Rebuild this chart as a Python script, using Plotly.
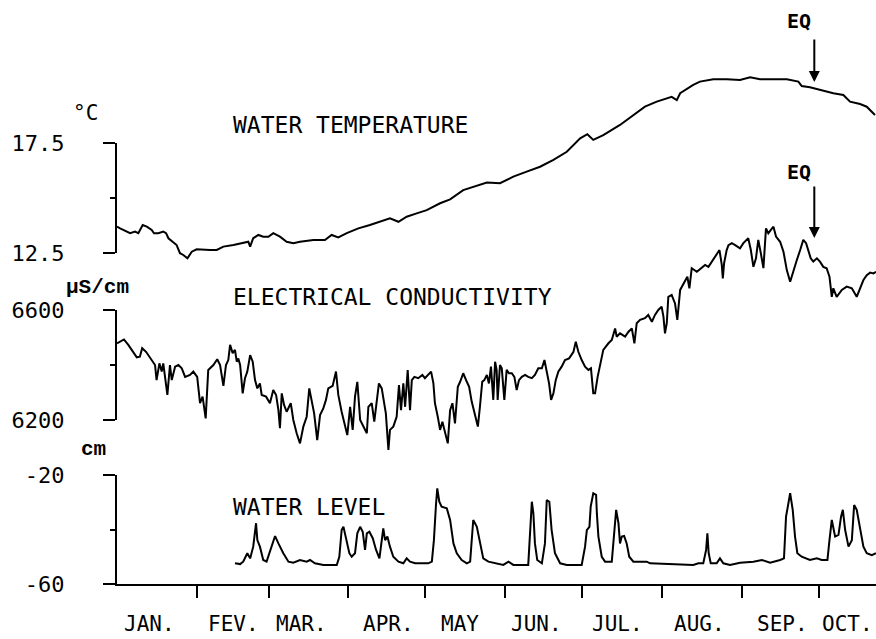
import plotly.graph_objects as go

# ---------------- data (x = day of year, starting 1 January) ----------------
temp_day = [0, 1.2, 5.1, 7.0, 8.3, 10.0, 11.6, 13.5, 14.4, 16.1, 18.0, 19.1, 20.0, 21.9, 23.2,
            24.5, 25.8, 27.4, 29.1, 31.0, 33.6, 36.2, 38.8, 41.4, 45.3, 49.1, 51.1, 51.8, 53.0,
            55.0, 56.9, 58.9, 60.8, 63.4, 66.0, 68.6, 71.2, 76.4, 80.9, 83.5, 86.1, 89.4, 93.9,
            98.4, 103.6, 106.2, 109.5, 112.7, 116.6, 120.5, 125.7, 129.6, 134.7, 138.6, 143.9,
            149.0, 154.2, 159.4, 164.6, 169.8, 175.0, 180.2, 183.0, 185.3, 189.2, 195.7, 200.9,
            205.4, 210.0, 215.8, 217.8, 219.1, 224.2, 226.8, 232.0, 237.2, 242.4, 246.3, 250.2,
            255.4, 260.6, 265.1, 266.4, 269.6, 273.5, 278.7, 282.6, 285.2, 289.1, 291.7, 294.9]
temp_val = [13.70, 13.62, 13.40, 13.47, 13.40, 13.77, 13.70, 13.55, 13.40, 13.40, 13.47, 13.40,
            13.17, 13.01, 12.86, 12.49, 12.41, 12.26, 12.56, 12.67, 12.64, 12.64, 12.64, 12.79,
            12.86, 12.94, 13.01, 12.79, 13.17, 13.32, 13.24, 13.24, 13.40, 13.24, 13.01, 12.94,
            13.01, 13.09, 13.09, 13.32, 13.21, 13.40, 13.62, 13.77, 14.00, 14.08, 13.92, 14.15,
            14.30, 14.45, 14.76, 14.94, 15.36, 15.51, 15.70, 15.67, 15.97, 16.20, 16.42, 16.73,
            17.10, 17.71, 17.90, 17.64, 17.86, 18.32, 18.77, 19.15, 19.38, 19.60, 19.45, 19.76,
            20.14, 20.29, 20.40, 20.40, 20.36, 20.49, 20.40, 20.40, 20.40, 20.29, 20.09, 20.03,
            19.91, 19.76, 19.68, 19.38, 19.27, 19.15, 18.77]

cond_day = [0, 2.7, 4.4, 7.7, 8.9, 9.8, 11.3, 14.8, 15.4, 16.5, 17.4, 18.0, 19.6, 20.6, 21.3,
            22.6, 23.9, 25.2, 26.5, 28.4, 29.7, 31.2, 32.3, 33.3, 34.5, 35.5, 37.5, 39.0, 40.1,
            41.4, 42.4, 43.3, 44.0, 45.0, 45.9, 46.6, 47.2, 47.9, 48.9, 49.8, 50.7, 51.8, 52.8,
            53.7, 54.6, 55.6, 56.3, 58.0, 59.5, 60.8, 61.9, 62.8, 63.4, 64.1, 65.0, 66.0, 67.6,
            68.6, 69.9, 71.2, 72.5, 73.8, 74.8, 75.8, 76.7, 77.9, 79.0, 80.3, 81.3, 82.2, 83.9,
            85.2, 86.1, 87.4, 88.7, 89.6, 90.7, 91.7, 92.6, 93.5, 94.6, 95.8, 97.2, 97.8, 99.1,
            100.1, 101.1, 101.9, 103.0, 103.6, 104.6, 105.6, 106.2, 107.5, 108.8, 109.7, 110.5,
            111.4, 112.1, 113.1, 114.0, 114.7, 115.7, 117.2, 118.8, 119.8, 121.1, 122.2, 123.1,
            123.7, 124.8, 125.7, 126.6, 127.6, 128.7, 129.6, 130.5, 131.5, 132.6, 133.5, 134.7,
            136.1, 137.0, 138.0, 139.0, 140.4, 141.2, 142.1, 142.9, 143.9, 144.7, 145.5, 146.4,
            147.1, 147.7, 148.1, 149.0, 149.7, 150.7, 151.6, 152.5, 153.6, 154.6, 155.5, 156.4,
            157.5, 158.8, 160.0, 161.4, 162.6, 163.9, 165.3, 166.3, 167.2, 168.1, 168.9, 169.8,
            170.7, 171.7, 173.0, 174.3, 175.9, 177.6, 178.5, 179.5, 180.8, 182.1, 183.4, 184.4,
            185.3, 186.0, 187.0, 187.9, 189.2, 191.2, 192.5, 193.8, 194.4, 195.7, 197.7, 199.0,
            200.3, 201.3, 202.2, 203.5, 205.4, 206.7, 208.1, 209.3, 210.6, 211.9, 212.6, 213.2,
            213.9, 214.5, 215.8, 217.1, 218.0, 219.1, 221.0, 221.9, 222.7, 223.6, 225.6, 227.5,
            228.8, 230.1, 232.0, 233.1, 234.4, 235.3, 235.7, 236.2, 237.2, 237.9, 239.2, 240.5,
            242.4, 243.7, 245.6, 246.6, 247.6, 248.6, 249.5, 250.5, 251.5, 252.5, 253.4, 254.4,
            255.4, 256.4, 258.0, 259.3, 260.6, 261.9, 263.2, 264.5, 265.8, 267.0, 268.1, 269.0,
            269.9, 270.9, 272.3, 273.5, 274.8, 276.1, 277.2, 278.1, 278.7, 280.0, 282.0, 283.9,
            285.9, 287.8, 289.1, 290.4, 291.7, 293.0, 294.3, 295.3]
cond_val = [6479, 6493, 6473, 6428, 6430, 6461, 6448, 6400, 6345, 6406, 6376, 6406, 6291, 6400,
            6345, 6394, 6400, 6388, 6357, 6364, 6376, 6357, 6261, 6285, 6206, 6382, 6400, 6421,
            6400, 6324, 6400, 6418, 6473, 6443, 6455, 6412, 6424, 6400, 6297, 6352, 6376, 6436,
            6412, 6345, 6315, 6333, 6291, 6285, 6261, 6309, 6291, 6236, 6170, 6297, 6255, 6230,
            6261, 6200, 6152, 6115, 6176, 6212, 6315, 6261, 6224, 6127, 6218, 6243, 6273, 6315,
            6324, 6376, 6291, 6230, 6176, 6145, 6248, 6164, 6285, 6339, 6200, 6176, 6152, 6248,
            6261, 6194, 6273, 6333, 6315, 6279, 6224, 6091, 6164, 6176, 6212, 6327, 6236, 6333,
            6248, 6382, 6236, 6345, 6357, 6352, 6364, 6352, 6364, 6376, 6333, 6261, 6212, 6164,
            6194, 6152, 6115, 6236, 6261, 6188, 6321, 6339, 6370, 6339, 6321, 6267, 6224, 6176,
            6248, 6339, 6345, 6364, 6333, 6394, 6273, 6412, 6382, 6273, 6400, 6388, 6273, 6382,
            6370, 6370, 6357, 6309, 6345, 6357, 6364, 6357, 6352, 6364, 6388, 6388, 6418, 6370,
            6333, 6273, 6297, 6345, 6376, 6394, 6418, 6424, 6448, 6485, 6448, 6418, 6394, 6382,
            6388, 6297, 6297, 6357, 6394, 6455, 6479, 6491, 6533, 6503, 6515, 6503, 6521, 6533,
            6479, 6552, 6564, 6570, 6582, 6557, 6582, 6600, 6612, 6576, 6515, 6552, 6648, 6655,
            6624, 6564, 6673, 6709, 6721, 6679, 6752, 6739, 6752, 6764, 6757, 6782, 6800, 6818,
            6764, 6715, 6770, 6818, 6836, 6843, 6836, 6824, 6843, 6861, 6818, 6757, 6788, 6855,
            6806, 6752, 6897, 6879, 6891, 6903, 6867, 6848, 6812, 6745, 6703, 6745, 6782, 6818,
            6855, 6843, 6818, 6788, 6776, 6788, 6776, 6757, 6752, 6721, 6648, 6679, 6648, 6673,
            6685, 6679, 6648, 6679, 6709, 6727, 6736, 6733, 6739]

level_day = [45.9, 47.9, 49.1, 50.2, 50.7, 51.8, 53.0, 54.1, 54.6, 55.6, 56.9, 58.2, 59.8, 61.5,
             62.8, 64.7, 66.7, 68.6, 71.2, 73.8, 75.1, 77.0, 80.3, 85.5, 86.5, 87.4, 88.1, 89.4,
             90.4, 91.3, 92.6, 93.5, 94.6, 95.6, 96.5, 97.2, 98.2, 99.5, 100.8, 102.1, 103.0,
             103.6, 104.3, 105.2, 106.2, 107.5, 109.5, 111.4, 112.7, 114.0, 116.0, 121.1, 122.5,
             123.3, 124.1, 124.6, 125.4, 126.3, 128.3, 129.6, 130.9, 132.2, 134.1, 136.1, 137.4,
             138.0, 138.6, 140.0, 141.2, 142.5, 144.5, 147.7, 150.3, 152.3, 154.2, 160.0, 160.7,
             161.4, 162.0, 162.6, 163.5, 165.3, 166.5, 167.2, 168.2, 169.1, 170.4, 172.4, 175.0,
             180.8, 182.1, 182.8, 183.8, 184.3, 185.3, 186.4, 186.7, 187.3, 188.6, 189.9, 192.5,
             193.1, 194.2, 195.1, 195.7, 196.4, 197.3, 198.3, 199.3, 200.9, 206.1, 207.4, 213.9,
             220.4, 224.2, 226.2, 228.1, 229.2, 229.7, 230.2, 231.0, 233.3, 234.6, 235.9, 238.5,
             242.4, 247.6, 250.9, 254.1, 258.0, 259.5, 260.3, 261.2, 261.9, 262.9, 263.8, 264.7,
             266.4, 269.6, 272.3, 274.2, 276.4, 277.2, 278.1, 279.4, 280.7, 281.7, 282.4, 283.3,
             284.6, 285.9, 286.8, 287.8, 289.1, 290.4, 291.7, 293.7, 295.3]
level_val = [-52.4, -52.7, -51.8, -50.0, -48.7, -50.6, -46.3, -37.7, -43.9, -46.3, -51.2, -51.8,
             -47.5, -42.4, -45.1, -48.7, -51.8, -52.2, -51.2, -51.8, -51.2, -52.4, -53.0, -53.0,
             -50.0, -40.2, -39.0, -43.9, -48.7, -50.0, -48.7, -41.4, -39.0, -40.8, -47.5, -41.4,
             -40.8, -43.2, -47.5, -50.6, -42.6, -39.6, -43.9, -42.6, -46.3, -50.0, -51.8, -52.4,
             -50.6, -51.8, -52.4, -52.4, -51.8, -43.9, -31.0, -24.9, -29.8, -31.6, -32.2, -36.5,
             -45.1, -48.7, -51.2, -52.4, -51.8, -45.1, -36.5, -39.0, -45.1, -50.6, -51.8, -52.4,
             -53.0, -51.8, -53.0, -53.0, -42.6, -29.8, -34.1, -45.1, -51.2, -52.4, -45.1, -29.2,
             -29.8, -40.2, -48.7, -52.4, -53.0, -53.0, -46.3, -40.2, -39.0, -31.6, -26.7, -27.3,
             -34.1, -42.6, -50.0, -51.8, -51.8, -43.9, -32.8, -37.7, -45.1, -42.6, -42.4, -45.1,
             -50.0, -51.8, -51.8, -52.4, -52.7, -53.0, -53.0, -52.4, -52.4, -47.5, -41.4, -48.7,
             -52.4, -52.4, -50.6, -52.4, -53.0, -52.2, -51.8, -51.2, -52.2, -51.2, -50.6, -35.3,
             -30.4, -26.7, -32.8, -42.6, -48.7, -50.0, -51.2, -50.6, -51.2, -51.2, -43.9, -36.5,
             -42.6, -42.0, -35.3, -32.8, -40.2, -46.3, -43.9, -31.0, -32.8, -39.0, -46.3, -48.7,
             -49.4, -48.7]

month_start_days = [31, 59, 90, 120, 151, 181, 212, 243, 273]
month_labels = ["JAN.", "FEV.", "MAR.", "APR.", "MAY", "JUN.", "JUL.", "AUG.", "SEP.", "OCT."]
month_label_days = [12.8, 45.4, 71.6, 105.8, 133.5, 163.4, 194.7, 226.5, 258.9, 284.4]

eq_day = 271.3
eq_label_day = 265.2
eq_temp = 20.27
eq_cond = 6862

x_range = [0, 295.3]
temp_axis_ticks = [12.5, 17.5]
cond_axis_ticks = [6200, 6600]
level_axis_ticks = [-60, -20]

# ---------------- figure ----------------
MONO = "DejaVu Sans Mono"
line_style = dict(color="black", width=2)

fig = go.Figure()
fig.add_trace(go.Scatter(x=temp_day, y=temp_val, mode="lines", line=line_style,
                         xaxis="x", yaxis="y4", showlegend=False))
fig.add_trace(go.Scatter(x=cond_day, y=cond_val, mode="lines", line=line_style,
                         xaxis="x", yaxis="y2", showlegend=False))
fig.add_trace(go.Scatter(x=level_day, y=level_val, mode="lines", line=line_style,
                         xaxis="x", yaxis="y", showlegend=False))
# empty traces so that the short "display" axes are drawn
fig.add_trace(go.Scatter(x=[None], y=[None], xaxis="x", yaxis="y3", showlegend=False,
                         hoverinfo="skip"))
fig.add_trace(go.Scatter(x=[None], y=[None], xaxis="x", yaxis="y5", showlegend=False,
                         hoverinfo="skip"))

PLOT_H = 584.0


def dom(top_px, bottom_px):
    return [(PLOT_H - bottom_px) / PLOT_H, (PLOT_H - top_px) / PLOT_H]


def disp_axis(domain, rng, ticks, minor_val, fmt):
    return dict(domain=domain, range=rng, anchor="x", automargin=False,
                showline=True, linewidth=2,
                linecolor="black", ticks="outside", ticklen=12, tickwidth=2,
                tickcolor="black", tickmode="array", tickvals=ticks,
                ticktext=[fmt(t) for t in ticks],
                tickfont=dict(family=MONO, size=22, color="black"),
                ticklabelstandoff=34, showgrid=False, zeroline=False,
                minor=dict(tickmode="array", tickvals=[minor_val], ticks="outside",
                           ticklen=5, tickwidth=2, tickcolor="black", showgrid=False),
                fixedrange=True)


hidden = dict(visible=False, showgrid=False, zeroline=False, anchor="x", automargin=False)

fig.update_layout(
    template="none",
    width=876, height=639,
    margin=dict(l=117, r=0, t=0, b=55, autoexpand=False),
    paper_bgcolor="white", plot_bgcolor="rgba(0,0,0,0)",
    font=dict(family=MONO, color="black"),
    xaxis=dict(range=x_range, anchor="y", automargin=False, showline=True, linewidth=2,
               linecolor="black", ticks="outside", ticklen=12, tickwidth=2,
               tickcolor="black", tickmode="array", tickvals=month_start_days,
               showticklabels=False, showgrid=False, zeroline=False, fixedrange=True),
    yaxis=disp_axis(dom(475, 584), [-60, -20], level_axis_ticks, -40, lambda t: f"{t:d}"),
    yaxis2=dict(domain=dom(200, 475), range=[6000, 7000], **hidden),
    yaxis3=disp_axis(dom(310, 420), [6200, 6600], cond_axis_ticks, 6400, lambda t: f"{t:d}"),
    yaxis4=dict(domain=dom(33, 308), range=[10, 22.5], **hidden),
    yaxis5=disp_axis(dom(143, 253), [12.5, 17.5], temp_axis_ticks, 15, lambda t: f"{t:.1f}"),
)

ann = []


def px_x(px):
    return (px - 117) / 759.0


def px_y(py):
    return (PLOT_H - py) / PLOT_H


# panel titles
for text, py in [("WATER TEMPERATURE", 125), ("ELECTRICAL CONDUCTIVITY", 297),
                 ("WATER LEVEL", 507)]:
    ann.append(dict(text=text, xref="paper", yref="paper", x=px_x(231), y=px_y(py),
                    xanchor="left", yanchor="middle", showarrow=False,
                    font=dict(family=MONO, size=23, color="black")))

# units
ann.append(dict(text="°C", xref="paper", yref="paper", x=px_x(71), y=px_y(113),
                xanchor="left", yanchor="middle", showarrow=False,
                font=dict(family=MONO, size=21, color="black")))
ann.append(dict(text="<b>μS/cm</b>", xref="paper", yref="paper", x=px_x(64), y=px_y(287),
                xanchor="left", yanchor="middle", showarrow=False,
                font=dict(family="Liberation Mono", size=21, color="black")))
ann.append(dict(text="<b>cm</b>", xref="paper", yref="paper", x=px_x(79), y=px_y(449),
                xanchor="left", yanchor="middle", showarrow=False,
                font=dict(family="Liberation Mono", size=21, color="black")))

# month labels
for lab, d in zip(month_labels, month_label_days):
    ann.append(dict(text=lab, xref="x", yref="paper", x=d, y=px_y(624),
                    xanchor="center", yanchor="middle", showarrow=False,
                    font=dict(family=MONO, size=21, color="black")))

# earthquake markers: vertical arrows with the label to their upper left
for yref, yval, arrow_len, label_py in [("y4", eq_temp, 44, 21), ("y2", eq_cond, 53, 172)]:
    ann.append(dict(text="", xref="x", yref=yref, x=eq_day, y=yval,
                    showarrow=True, ax=0, ay=-arrow_len, arrowhead=2, arrowsize=1.1,
                    arrowwidth=2, arrowcolor="black"))
    ann.append(dict(text="<b>EQ</b>", xref="x", yref="paper", x=eq_label_day,
                    y=px_y(label_py), xanchor="center", yanchor="middle", showarrow=False,
                    font=dict(family=MONO, size=20, color="black")))

fig.update_layout(annotations=ann)
fig.write_html("out.html",
               config={"displayModeBar": False, "staticPlot": True},
               post_script="document.body.style.margin='0px';"
                           "document.body.style.overflow='hidden';")
